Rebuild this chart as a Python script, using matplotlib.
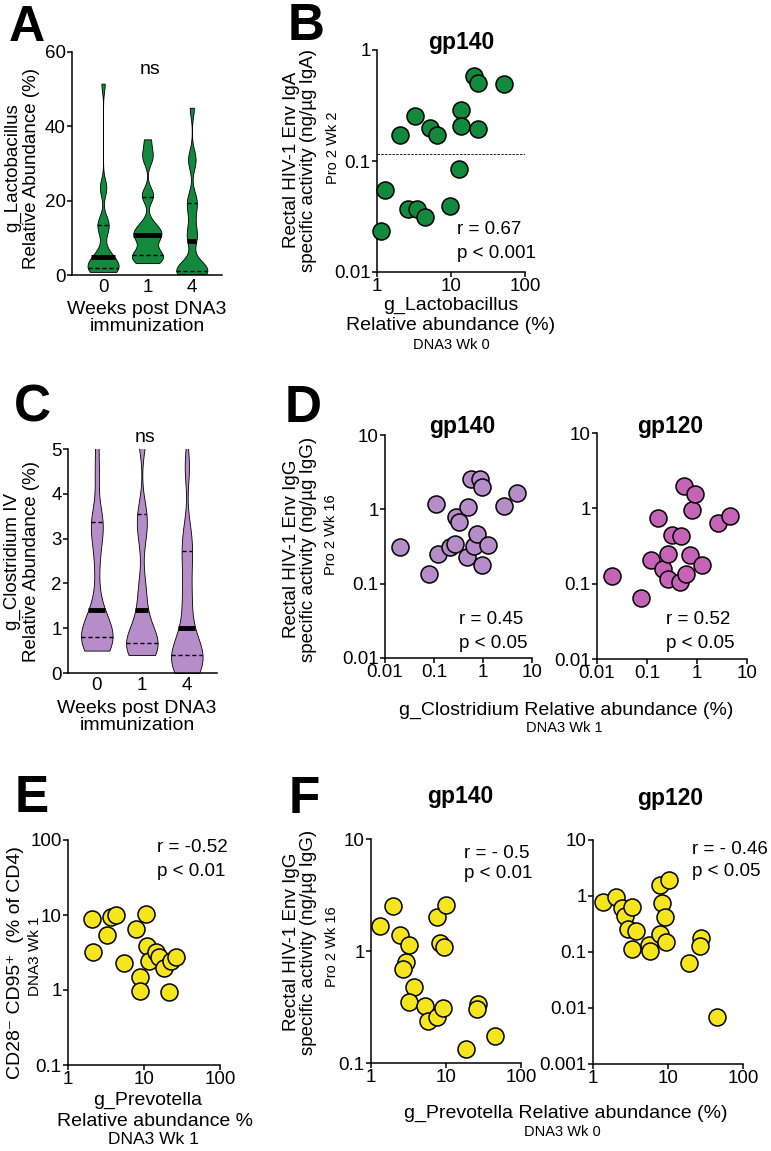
import numpy as np
import matplotlib
matplotlib.use('Agg')
import matplotlib.pyplot as plt
from matplotlib import cbook, mlab

plt.rcParams['font.family'] = ['Liberation Sans', 'DejaVu Sans']
plt.rcParams['axes.linewidth'] = 1.1

# ---- data ----
weeks = ['0', '1', '4']

# A: g_Lactobacillus relative abundance (%) per week
lacto_wk0 = [0.8, 1.0, 1.2, 1.4, 1.6, 2.0, 2.5, 3.0, 4.0, 4.8, 5.0, 6.0, 11.0, 13.0, 14.0, 14.5, 23.0, 24.0, 51.5]
lacto_wk1 = [3.2, 4.0, 4.8, 5.0, 5.5, 6.5, 9.5, 10.5, 10.8, 11.5, 12.5, 14.0, 21.0, 22.0, 31.0, 33.0, 36.5]
lacto_wk4 = [0.3, 0.5, 0.8, 1.0, 1.2, 1.5, 2.0, 3.0, 9.2, 10.5, 13.0, 17.0, 19.4, 21.0, 30.0, 32.0, 45.0]

# B: Lactobacillus (DNA3 Wk 0) vs rectal IgA gp140 (Pro 2 Wk 2)
b_lacto = [1.14, 1.30, 2.07, 2.6, 3.26, 3.51, 4.41, 5.26, 6.47, 9.6, 12.8, 13.8, 13.8, 20.7, 22.9, 23.4, 51.5]
b_iga = [0.0233, 0.0543, 0.171, 0.0371, 0.255, 0.0371, 0.0312, 0.199, 0.171, 0.0392, 0.0853, 0.291, 0.207,
         0.586, 0.50, 0.196, 0.49]
b_cutoff = 0.115

# C: g_Clostridium IV relative abundance (%) per week
clos_wk0 = [0.5, 0.6, 0.7, 0.75, 0.8, 0.85, 0.9, 1.0, 1.2, 1.6, 2.5, 3.2, 3.3, 3.4, 4.5, 5.5, 7.0, 9.0]
clos_wk1 = [0.4, 0.45, 0.5, 0.6, 0.65, 0.7, 0.8, 0.9, 1.2, 1.6, 2.0, 3.0, 3.4, 3.6, 5.2, 5.5, 6.0, 7.0]
clos_wk4 = [0.0, 0.05, 0.1, 0.2, 0.4, 0.45, 0.5, 0.6, 0.8, 1.2, 1.6, 2.0, 2.5, 2.8, 3.2, 4.6, 6.0, 8.0]

# D: Clostridium (DNA3 Wk 1) vs rectal IgG (Pro 2 Wk 16)
d140_x = [0.0206, 0.0784, 0.122, 0.111, 0.214, 0.271, 0.276, 0.327, 0.485, 0.478, 0.577, 0.644, 0.741,
          0.855, 0.955, 0.955, 1.29, 2.73, 4.97]
d140_y = [0.309, 0.136, 0.254, 1.17, 0.312, 0.346, 0.792, 0.671, 1.08, 0.229, 2.55, 0.322, 0.472,
          2.55, 2.01, 0.177, 0.336, 1.11, 1.67]
d120_x = [0.0203, 0.0771, 0.118, 0.169, 0.212, 0.263, 0.268, 0.316, 0.464, 0.487, 0.612, 0.550, 0.713,
          0.782, 0.927, 1.24, 2.67, 4.64]
d120_y = [0.125, 0.0644, 0.209, 0.751, 0.158, 0.114, 0.251, 0.441, 0.105, 0.427, 0.133, 1.95, 0.239,
          0.950, 1.54, 0.179, 0.631, 0.798]

# E: Prevotella (DNA3 Wk 1) vs CD28- CD95+ (% of CD4)
e_x = [2.07, 2.14, 3.27, 3.65, 4.25, 5.48, 7.96, 8.81, 8.81, 10.5, 10.8, 11.7, 14.6, 15.8, 18.5, 21.5, 22.4, 26.0]
e_y = [8.75, 3.24, 5.41, 9.5, 10.0, 2.27, 6.44, 1.51, 0.97, 10.2, 3.9, 2.46, 3.24, 2.78, 1.94, 0.95, 2.46, 2.73]

# F: Prevotella (DNA3 Wk 0) vs rectal IgG (Pro 2 Wk 16)
f140_x = [1.32, 1.99, 2.44, 3.23, 2.94, 2.66, 3.69, 3.26, 5.18, 5.68, 7.57, 9.12, 7.57, 10.1, 8.23, 9.3,
          18.7, 26.8, 26.0, 44.4]
f140_y = [1.68, 2.53, 1.39, 1.13, 0.80, 0.684, 0.479, 0.351, 0.323, 0.236, 0.258, 0.31, 2.02, 2.57, 1.18, 1.09,
          0.134, 0.333, 0.302, 0.174]
f120_x = [1.36, 2.05, 2.44, 2.7, 3.31, 2.93, 3.78, 3.34, 5.52, 5.81, 7.74, 10.3, 8.32, 9.21, 7.9, 9.31,
          19.05, 27.8, 27.0, 45.0]
f120_y = [0.792, 0.946, 0.619, 0.44, 0.645, 0.254, 0.237, 0.113, 0.133, 0.106, 1.57, 1.93, 0.76, 0.428, 0.21,
          0.153, 0.0646, 0.18, 0.128, 0.0070]

green = '#12893c'
lilac = '#b68cc9'
magenta = '#c563b6'
yellow = '#f4e51c'

LAB = 14      # axis labels
YLAB = 13.5   # long rotated labels
TICK = 13.5   # tick labels
SMALL = 10.5  # "Pro 2 Wk ..", "DNA3 Wk .."

W, H = 771, 1151
fig = plt.figure(figsize=(W / 100, H / 100), dpi=100)


def add_ax(l, r, t, b):
    ax = fig.add_axes([l / W, 1 - b / H, (r - l) / W, (b - t) / H])
    ax.spines['top'].set_visible(False)
    ax.spines['right'].set_visible(False)
    ax.tick_params(labelsize=TICK, length=3.5, width=1.1, pad=1)
    return ax


def ftext(x, y, s, **kw):
    kw.setdefault('ha', 'center')
    kw.setdefault('va', 'center')
    kw.setdefault('fontsize', LAB)
    fig.text(x / W, 1 - y / H, s, **kw)


def letter(x, y, s, size=37):
    # y is the baseline
    ftext(x, y, s, fontsize=size, fontweight='bold', va='baseline')


def violins(ax, groups, color, bw, width):
    def kde(X, coords):
        return mlab.GaussianKDE(X, bw).evaluate(coords)
    stats = cbook.violin_stats(groups, kde, points=300)
    pos = np.arange(len(groups))
    parts = ax.violin(stats, pos, widths=width, showmeans=False, showextrema=False, showmedians=False)
    for body in parts['bodies']:
        body.set_facecolor(color)
        body.set_edgecolor('black')
        body.set_linewidth(0.6)
        body.set_alpha(1)
    for p, st, g in zip(pos, stats, groups):
        half = lambda v: np.interp(v, st['coords'], st['vals']) / st['vals'].max() * width / 2
        q1, med, q3 = np.percentile(g, [25, 50, 75])
        ax.plot([p - half(med), p + half(med)], [med, med], color='black', lw=3.5, solid_capstyle='butt')
        for q in (q1, q3):
            ax.plot([p - half(q), p + half(q)], [q, q], color='black', lw=1.0, ls=(0, (3, 2)))
    ax.set_xticks(pos)
    ax.set_xticklabels(weeks)
    ax.tick_params(axis='x', length=0, pad=3)


def log_ax(ax, xt, xl, yt, yl):
    ax.set_xscale('log')
    ax.set_yscale('log')
    ax.set_xlim(xt[0], xt[-1])
    ax.set_ylim(yt[0], yt[-1])
    ax.set_xticks(xt)
    ax.set_xticklabels(xl)
    ax.set_yticks(yt)
    ax.set_yticklabels(yl)
    ax.minorticks_off()


def dots(ax, x, y, color):
    ax.scatter(x, y, s=150, c=color, edgecolors='black', linewidths=1.1, zorder=3, clip_on=False)


# ---- A ----
ax = add_ax(72, 222, 52, 275)
violins(ax, [lacto_wk0, lacto_wk1, lacto_wk4], green, 0.18, 0.7)
ax.set_xlim(-0.7, 2.68)
ax.set_ylim(0, 60)
ax.set_yticks([0, 20, 40, 60])
ftext(150, 70, 'ns', fontsize=14)
ftext(22, 168, 'g_Lactobacillus\nRelative Abundance (%)', rotation=90, linespacing=1.1, fontsize=13.5)
ftext(147, 318, 'Weeks post DNA3\nimmunization', linespacing=1.0)
letter(27, 41, 'A', size=36)

# ---- B ----
ax = add_ax(377, 525, 50, 272)
log_ax(ax, [1, 10, 100], ['1', '10', '100'], [0.01, 0.1, 1], ['0.01', '0.1', '1'])
ax.axhline(b_cutoff, color='black', lw=0.6, ls=(0, (3, 1.5)))
dots(ax, b_lacto, b_iga, green)
ftext(461, 43, 'gp140', fontsize=16.5, fontweight='bold')
ftext(457, 230, 'r = 0.67', ha='left', fontsize=13.5)
ftext(457, 253, 'p < 0.001', ha='left', fontsize=13.5)
ftext(300, 160, 'Rectal HIV-1 Env IgA\nspecific activity (ng/µg IgA)', rotation=90, linespacing=1.05,
      fontsize=YLAB)
ftext(333, 148, 'Pro 2 Wk 2', rotation=90, fontsize=SMALL)
ftext(451, 305, 'g_Lactobacillus')
ftext(451, 326, 'Relative abundance (%)')
ftext(451, 345, 'DNA3 Wk 0', fontsize=SMALL)
letter(306, 40, 'B')

# ---- C ----
ax = add_ax(68, 217, 449, 673)
violins(ax, [clos_wk0, clos_wk1, clos_wk4], lilac, 0.17, 0.7)
ax.set_xlim(-0.64, 2.67)
ax.set_ylim(0, 5)
ax.set_yticks([0, 1, 2, 3, 4, 5])
ftext(145, 437, 'ns', fontsize=14)
ftext(22, 562, 'g_Clostridium IV\nRelative Abundance (%)', rotation=90, linespacing=1.1, fontsize=13.5)
ftext(137, 717, 'Weeks post DNA3\nimmunization', linespacing=1.0)
letter(32, 422, 'C')

# ---- D ----
dxt = [0.01, 0.1, 1, 10]
dxl = ['0.01', '0.1', '1', '10']
ax = add_ax(385, 532, 435, 658)
log_ax(ax, dxt, dxl, dxt, dxl)
dots(ax, d140_x, d140_y, lilac)
ftext(459, 620, 'r = 0.45', ha='left', fontsize=13.5)
ftext(459, 643, 'p < 0.05', ha='left', fontsize=13.5)
ftext(462, 427, 'gp140', fontsize=16.5, fontweight='bold')

ax = add_ax(597, 747, 433, 659)
log_ax(ax, dxt, dxl, dxt, dxl)
dots(ax, d120_x, d120_y, magenta)
ftext(666, 620, 'r = 0.52', ha='left', fontsize=13.5)
ftext(666, 643, 'p < 0.05', ha='left', fontsize=13.5)
ftext(670, 427, 'gp120', fontsize=16.5, fontweight='bold')

ftext(300, 549, 'Rectal HIV-1 Env IgG\nspecific activity (ng/µg IgG)', rotation=90, linespacing=1.05,
      fontsize=YLAB)
ftext(331, 535, 'Pro 2 Wk 16', rotation=90, fontsize=SMALL)
ftext(566, 710, 'g_Clostridium Relative abundance (%)')
ftext(564, 728, 'DNA3 Wk 1', fontsize=SMALL)
letter(303, 422, 'D')

# ---- E ----
ax = add_ax(68, 220, 840, 1065)
log_ax(ax, [1, 10, 100], ['1', '10', '100'], [0.1, 1, 10, 100], ['0.1', '1', '10', '100'])
dots(ax, e_x, e_y, yellow)
ftext(157, 848, 'r = -0.52', ha='left', fontsize=13.5)
ftext(157, 872, 'p < 0.01', ha='left', fontsize=13.5)
ftext(16, 963, 'CD28⁻ CD95⁺  (% of CD4)', rotation=90)
ftext(35, 956, 'DNA3 Wk 1', rotation=90, fontsize=11)
ftext(148, 1100, 'g_Prevotella', fontsize=14)
ftext(155, 1121, 'Relative abundance %', fontsize=14)
ftext(153, 1140, 'DNA3 Wk 1', fontsize=12.5)
letter(32, 812, 'E')

# ---- F ----
ax = add_ax(371, 521, 839, 1063)
log_ax(ax, [1, 10, 100], ['1', '10', '100'], [0.1, 1, 10], ['0.1', '1', '10'])
dots(ax, f140_x, f140_y, yellow)
ftext(464, 853, 'r = - 0.5', ha='left', fontsize=13.5)
ftext(464, 874, 'p < 0.01', ha='left', fontsize=13.5)
ftext(460, 797, 'gp140', fontsize=16.5, fontweight='bold')

ax = add_ax(593, 743, 840, 1064)
log_ax(ax, [1, 10, 100], ['1', '10', '100'], [0.001, 0.01, 0.1, 1, 10], ['0.001', '0.01', '0.1', '1', '10'])
dots(ax, f120_x, f120_y, yellow)
ftext(692, 849, 'r = - 0.46', ha='left', fontsize=13.5)
ftext(692, 872, 'p < 0.05', ha='left', fontsize=13.5)
ftext(670, 798, 'gp120', fontsize=16.5, fontweight='bold')

ftext(300, 942, 'Rectal HIV-1 Env IgG\nspecific activity (ng/µg IgG)', rotation=90, linespacing=1.05,
      fontsize=YLAB)
ftext(332, 947, 'Pro 2 Wk 16', rotation=90, fontsize=SMALL)
ftext(566, 1113, 'g_Prevotella Relative abundance (%)')
ftext(562, 1132, 'DNA3 Wk 0', fontsize=SMALL)
letter(304, 813, 'F')

fig.savefig('out.png', dpi=100, facecolor='white')
